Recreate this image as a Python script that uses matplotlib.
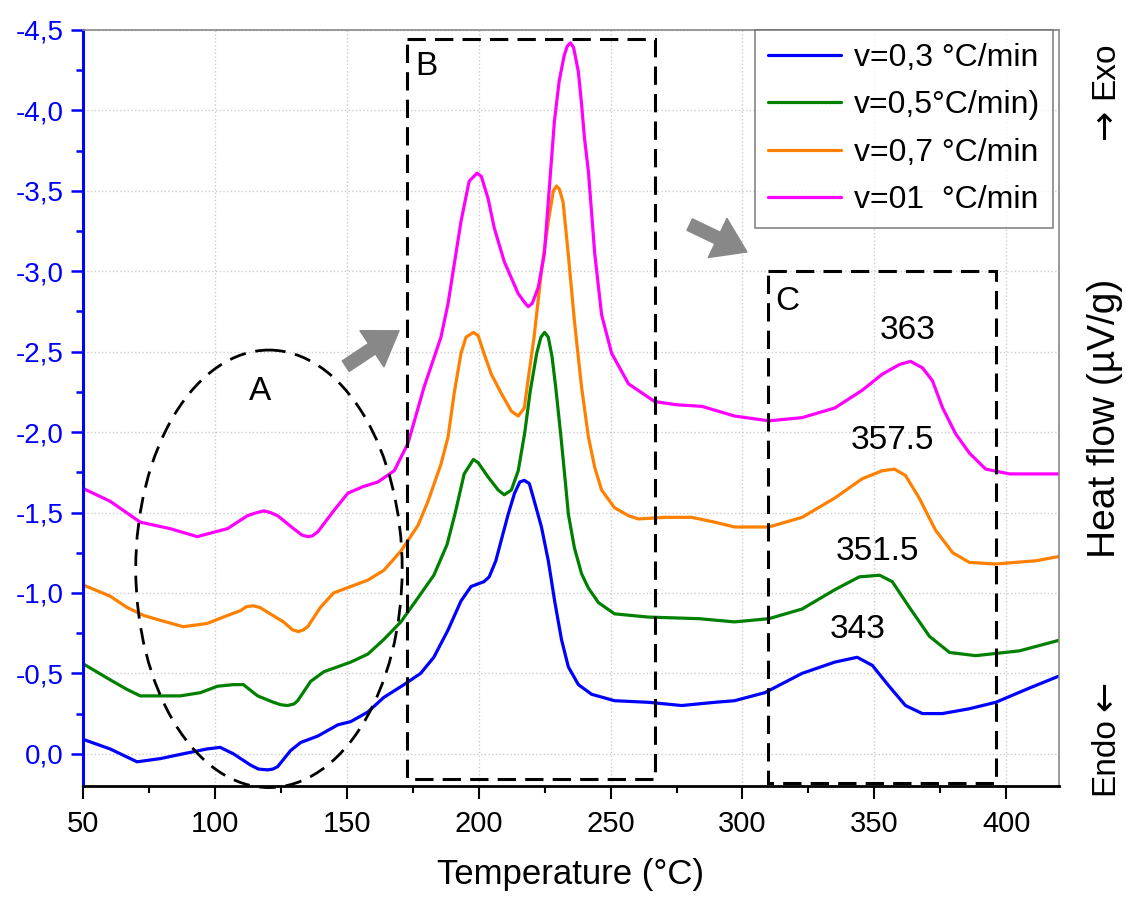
import matplotlib
matplotlib.use("Agg")
import matplotlib.pyplot as plt
from matplotlib.patches import Ellipse, Rectangle
from matplotlib.ticker import MultipleLocator, FuncFormatter

plt.rcParams['font.family'] = ['Liberation Sans', 'DejaVu Sans']

# DSC curves, heat flow (µV/g) against temperature (°C)
t_03 = [50, 60.3, 70.5, 79.3, 88, 97, 102, 107, 113.5, 116.5, 120, 122, 123.8, 128.7, 132.5, 139, 146.6,
        151.5, 158, 164, 171.7, 178, 183, 188.4, 193.3, 197.1, 202, 204, 206.5, 208.6, 211.2, 213.6, 215.6,
        217.3, 219.2, 221.1, 223.8, 226.4, 228.8, 231.4, 234, 237.8, 242.8, 251.5, 264.4, 277, 289.5, 297,
        308.5, 322.6, 335, 343.5, 349.2, 355.6, 361.8, 368.2, 375.8, 386, 396, 409, 421]
hf_03 = [-0.09, -0.03, 0.05, 0.03, 0.0, -0.03, -0.04, 0.0, 0.07, 0.095, 0.10, 0.095, 0.08, -0.02, -0.07,
         -0.11, -0.18, -0.20, -0.26, -0.35, -0.43, -0.50, -0.60, -0.77, -0.95, -1.04, -1.07, -1.10, -1.20,
         -1.33, -1.49, -1.62, -1.69, -1.70, -1.68, -1.57, -1.41, -1.20, -0.95, -0.71, -0.54, -0.43, -0.37,
         -0.33, -0.32, -0.30, -0.32, -0.33, -0.38, -0.50, -0.57, -0.60, -0.55, -0.42, -0.30, -0.25,
         -0.25, -0.28, -0.32, -0.41, -0.49]

t_05 = [50, 60.3, 66.7, 71.7, 79.3, 86.9, 94.5, 101, 107, 110.8, 116.2, 122.2, 125, 127.5, 130, 131.4,
        136.3, 141.3, 151.5, 158, 164, 170.5, 177, 183, 188, 191, 194.5, 198, 199.8, 203.6, 207.4, 209.7,
        212.4, 215, 217.5, 219.5, 222, 223.6, 225, 226.4, 227.8, 229.2, 231.2, 232.8, 234, 236.3, 239,
        241.6, 245.4, 251.5, 264.3, 283.5, 297, 310, 322.6, 335, 344.3, 352, 356.8, 363.3, 370.9, 378.5,
        388.4, 405, 421]
hf_05 = [-0.56, -0.46, -0.40, -0.36, -0.36, -0.36, -0.38, -0.42, -0.43, -0.43, -0.36, -0.32, -0.305, -0.30,
         -0.31, -0.33, -0.45, -0.51, -0.57, -0.62, -0.71, -0.82, -0.97, -1.11, -1.30, -1.49, -1.74, -1.83,
         -1.81, -1.72, -1.64, -1.61, -1.64, -1.76, -2.0, -2.25, -2.49, -2.59, -2.62, -2.59, -2.47, -2.28,
         -1.97, -1.70, -1.49, -1.28, -1.12, -1.03, -0.94, -0.87, -0.85, -0.84, -0.82, -0.84, -0.90, -1.02,
         -1.10, -1.11, -1.07, -0.91, -0.73, -0.63, -0.61, -0.64, -0.71]

t_07 = [50, 60.3, 66.7, 73, 79.3, 88, 97, 104.8, 109.7, 112, 114.6, 117, 120, 126, 129.5, 131.7, 133.5,
        135.2, 140, 145, 151.5, 158, 164, 170.5, 177, 180.8, 185.7, 188.4, 190.7, 193.3, 195.2, 198, 199.8,
        202, 204.8, 208.6, 212.4, 215, 217.3, 219.2, 221, 223.8, 226.4, 228.3, 229.5, 230.6, 232, 234,
        236.3, 239, 241.6, 244, 246.6, 251.5, 256.8, 260.6, 270.5, 280.8, 289.5, 297, 310, 322.6, 335,
        345.4, 353, 357.6, 361.8, 367, 373.2, 379.7, 386, 396, 411.3, 421]
hf_07 = [-1.05, -0.98, -0.91, -0.86, -0.83, -0.79, -0.81, -0.86, -0.89, -0.915, -0.92, -0.91, -0.88, -0.82,
         -0.77, -0.76, -0.77, -0.79, -0.91, -1.0, -1.04, -1.08, -1.14, -1.26, -1.42, -1.57, -1.80, -1.97,
         -2.24, -2.49, -2.59, -2.62, -2.60, -2.49, -2.36, -2.24, -2.13, -2.10, -2.15, -2.38, -2.59, -3.0,
         -3.31, -3.50, -3.53, -3.51, -3.43, -3.1, -2.69, -2.28, -1.97, -1.78, -1.64, -1.53, -1.48, -1.46,
         -1.47, -1.47, -1.44, -1.41, -1.41, -1.47, -1.59, -1.71, -1.76, -1.77, -1.73, -1.59, -1.39, -1.25,
         -1.19, -1.18, -1.20, -1.23]

t_10 = [50, 60.3, 71.7, 83, 93.3, 104.8, 112.3, 116, 118.5, 121, 123.8, 129.8, 133, 135.2, 137, 139, 145,
        150.4, 156, 161.8, 168, 173.2, 179.3, 185.7, 188.4, 193.3, 196.4, 199.4, 201, 203.6, 205.9, 209.7,
        215, 217.7, 218.8, 220.3, 222.6, 224.9, 226.8, 228.7, 230.5, 232.4, 233.6, 234.8, 236, 237.8, 239,
        240.1, 241.6, 244, 246.6, 250.4, 256.8, 266.7, 275, 284.6, 297, 310, 322.6, 335, 345.4, 353,
        359.5, 363.7, 368.2, 372, 375.9, 380.8, 386, 392.2, 401.3, 421]
hf_10 = [-1.65, -1.57, -1.44, -1.40, -1.35, -1.40, -1.48, -1.50, -1.51, -1.50, -1.48, -1.40, -1.36, -1.35,
         -1.355, -1.38, -1.51, -1.62, -1.66, -1.69, -1.76, -1.93, -2.28, -2.59, -2.80, -3.31, -3.56, -3.61,
         -3.59, -3.45, -3.27, -3.06, -2.86, -2.80, -2.78, -2.80, -2.90, -3.11, -3.52, -3.93, -4.18, -4.34,
         -4.40, -4.42, -4.39, -4.24, -4.04, -3.83, -3.62, -3.11, -2.73, -2.49, -2.30, -2.19, -2.17, -2.16,
         -2.10, -2.07, -2.09, -2.15, -2.26, -2.36, -2.42, -2.44, -2.40, -2.32, -2.15, -1.99, -1.87, -1.77,
         -1.74, -1.74]

labels = ['v=0,3 °C/min', 'v=0,5°C/min)', 'v=0,7 °C/min', 'v=01  °C/min']
colors = ['#0000ff', '#008000', '#ff8000', '#ff00ff']

# peak temperatures of the third effect and where their labels sit
peak_text = ['343', '351.5', '357.5', '363']
peak_pos = [(343.5, -0.77), (351, -1.26), (357, -1.95), (362.5, -2.63)]

fig = plt.figure(figsize=(11.26, 9.06), dpi=100)
ax = fig.add_axes([0.0737, 0.1325, 0.8668, 0.8344])

for t, hf, lab, c in zip([t_03, t_05, t_07, t_10], [hf_03, hf_05, hf_07, hf_10], labels, colors):
    ax.plot(t, hf, color=c, lw=2.3, label=lab, solid_joinstyle='round', solid_capstyle='round')

ax.set_xlim(50, 420)
ax.set_ylim(0.2, -4.5)

ax.xaxis.set_major_locator(MultipleLocator(50))
ax.xaxis.set_minor_locator(MultipleLocator(25))
ax.yaxis.set_major_locator(MultipleLocator(0.5))
ax.yaxis.set_minor_locator(MultipleLocator(0.25))
ax.yaxis.set_major_formatter(FuncFormatter(lambda v, p: f"{v:.1f}".replace('.', ',').replace('-0,0', '0,0')))

ax.grid(True, which='major', color='#cccccc', ls=':', lw=1.0)
ax.set_axisbelow(True)

ax.tick_params(axis='x', which='major', direction='out', length=9, width=1.5, labelsize=21, pad=8)
ax.tick_params(axis='x', which='minor', direction='out', length=5, width=1.5)
ax.tick_params(axis='y', which='major', direction='out', length=9, width=1.8, colors='#0000ff',
               labelsize=20, pad=5)
ax.tick_params(axis='y', which='minor', direction='out', length=5, width=1.8, colors='#0000ff')

ax.spines['left'].set_color('#0000ff')
ax.spines['left'].set_linewidth(2.2)
ax.spines['bottom'].set_linewidth(2.0)
ax.spines['top'].set_color('#888888')
ax.spines['top'].set_linewidth(1.2)
ax.spines['right'].set_color('#888888')
ax.spines['right'].set_linewidth(1.2)

ax.set_xlabel('Temperature (°C)', fontsize=25, labelpad=15)

# regions A, B and C
dash = (0, (6, 3))
ax.add_patch(Ellipse((120.5, -1.15), 101, 2.72, fill=False, ec='black', lw=2.0, ls=(0, (6, 3.5)),
                     clip_on=False, zorder=4))
ax.add_patch(Rectangle((172.8, -4.445), 266.7 - 172.8, 4.6, fill=False, ec='black', lw=2.2, ls=dash,
                       clip_on=False, zorder=4))
ax.add_patch(Rectangle((309.7, -3.0), 396 - 309.7, 3.18, fill=False, ec='black', lw=2.2, ls=dash,
                       clip_on=False, zorder=4))
ax.text(117, -2.25, 'A', fontsize=24, ha='center', va='center')
ax.text(180, -4.27, 'B', fontsize=24, ha='center', va='center')
ax.text(317, -2.81, 'C', fontsize=24, ha='center', va='center')

arrow = dict(arrowstyle='simple,head_length=0.9,head_width=1.2,tail_width=0.35',
             color='#888888', shrinkA=0, shrinkB=0, mutation_scale=26)
ax.annotate('', xy=(169.8, -2.63), xytext=(149.6, -2.41), arrowprops=arrow)
ax.annotate('', xy=(301.7, -3.12), xytext=(280, -3.29), arrowprops=arrow)

for txt, (x, y) in zip(peak_text, peak_pos):
    ax.text(x, y, txt, fontsize=24, ha='center', va='center')

leg = ax.legend(loc='upper right', fontsize=23, frameon=True, fancybox=False, handlelength=2.3,
                handletextpad=0.4, labelspacing=0.55, borderpad=0.4, borderaxespad=0.0,
                bbox_to_anchor=(0.9938, 1.0))
leg.get_frame().set_edgecolor('#666666')
leg.get_frame().set_linewidth(1.2)

# heat flow label with endo/exo directions on the right
xr = 1105 / 1126
fig.text(xr, 1 - 70 / 906, 'Exo', rotation=90, fontsize=24, ha='center', va='center')
fig.text(xr, 1 - 124 / 906, '→', rotation=90, fontsize=26, ha='center', va='center', family='DejaVu Sans')
fig.text(xr, 1 - 418 / 906, 'Heat flow (µV/g)', rotation=90, fontsize=28, ha='center', va='center')
fig.text(xr, 1 - 696 / 906, '←', rotation=90, fontsize=26, ha='center', va='center', family='DejaVu Sans')
fig.text(xr, 1 - 756 / 906, 'Endo', rotation=90, fontsize=24, ha='center', va='center')

fig.savefig('out.png', dpi=100)
